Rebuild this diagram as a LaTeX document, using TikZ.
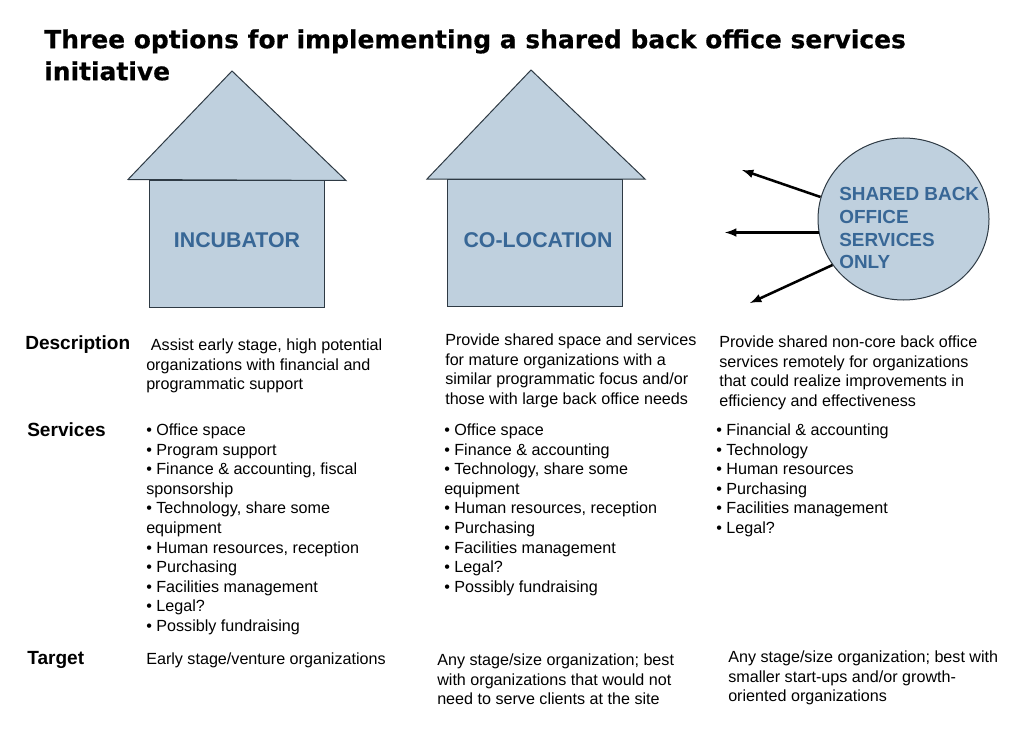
\documentclass[tikz,border=0pt]{standalone}
\usepackage{fontspec}
\setmainfont{Liberation Sans}
\newfontfamily\titlefont[FakeBold=0.5]{DejaVu Sans Bold}
\usetikzlibrary{shapes.geometric}
\definecolor{housefill}{HTML}{BFD0DE}
\definecolor{housetext}{HTML}{386796}
\definecolor{houseline}{HTML}{2E3A44}
\begin{document}
\begin{tikzpicture}[x=0.75pt,y=-0.75pt]
        \tikzset{
          house/.style={fill=housefill,draw=houseline,line width=0.75pt},
          headtext/.style={font=\titlefont\fontsize{18.7}{24}\selectfont,anchor=north west,align=left,inner sep=0pt},
          bigtext/.style={font=\fontsize{16}{17}\selectfont\bfseries,text=housetext,inner sep=0pt},
          circletext/.style={font=\fontsize{14.2}{17}\selectfont\bfseries,text=housetext,anchor=north west,align=left,inner sep=0pt},
          rowhead/.style={font=\fontsize{14.3}{17}\selectfont\bfseries,anchor=base west,inner sep=0pt},
          bodytext/.style={font=\fontsize{12.1}{14.63}\selectfont,anchor=north west,align=left,inner sep=0pt},
          outarrow/.style={-latex,line width=1.9pt,black}
        }
        \useasboundingbox (0,0) rectangle (1023,731);

        \node[headtext] (title) at (44,29) {Three options for implementing a shared back office services\\initiative};

        % the two houses
        \filldraw[house] (232,71) -- (346,180.5) -- (128,179.5) -- cycle;
        \filldraw[house] (149,180) rectangle (324,307);
        \filldraw[house] (531,70) -- (645,179) -- (427,179) -- cycle;
        \filldraw[house] (447,179) rectangle (622,306);
        \node[bigtext] (incubator) at (237,240) {INCUBATOR};
        \node[bigtext] (colocation) at (538,240) {CO-LOCATION};

        % the circle and its arrows
        \node[house,ellipse,minimum width=128.25pt,minimum height=121.5pt,inner sep=0pt] (shared) at (903.5,219) {};
        \node[circletext] (sharedtext) at (839,187.5) {SHARED BACK\\OFFICE\\SERVICES\\ONLY};
        \coordinate (arrowa) at (742,170);
        \coordinate (arrowb) at (725,232.5);
        \coordinate (arrowc) at (750,303);
        \draw[outarrow] (shared) ++(-83,-22) coordinate (starta) (starta) -- (arrowa);
        \draw[outarrow] (shared) ++(-85,13.5) coordinate (startb) (startb) -- (arrowb);
        \draw[outarrow] (shared) ++(-71,46) coordinate (startc) (startc) -- (arrowc);

        % row headings
        \foreach\name/\x/\y/\txt in {description/25/349/Description,services/27/436/Services,target/27/664/Target}{
            \node[rowhead] (\name) at (\x,\y) {\txt};
        }

        % description row
        \node[bodytext] (descone) at (146,339) {\hspace*{3.5pt}Assist early stage, high potential\\organizations with financial and\\programmatic support};
        \node[bodytext] (desctwo) at (445,334) {Provide shared space and services\\for mature organizations with a\\similar programmatic focus and/or\\those with large back office needs};
        \node[bodytext] (descthree) at (719,336) {Provide shared non-core back office\\services remotely for organizations\\that could realize improvements in\\efficiency and effectiveness};

        % services row
        \node[bodytext] (servone) at (146,424) {• Office space\\• Program support\\• Finance \& accounting, fiscal\\sponsorship\\• Technology, share some\\equipment\\• Human resources, reception\\• Purchasing\\• Facilities management\\• Legal?\\• Possibly fundraising};
        \node[bodytext] (servtwo) at (444,424) {• Office space\\• Finance \& accounting\\• Technology, share some\\equipment\\• Human resources, reception\\• Purchasing\\• Facilities management\\• Legal?\\• Possibly fundraising};
        \node[bodytext] (servthree) at (716,424) {• Financial \& accounting\\• Technology\\• Human resources\\• Purchasing\\• Facilities management\\• Legal?};

        % target row
        \node[bodytext] (targone) at (146,653) {Early stage/venture organizations};
        \node[bodytext] (targtwo) at (437,654) {Any stage/size organization; best\\with organizations that would not\\need to serve clients at the site};
        \node[bodytext] (targthree) at (728,651) {Any stage/size organization; best with\\smaller start-ups and/or growth-\\oriented organizations};
\end{tikzpicture}
\end{document}
